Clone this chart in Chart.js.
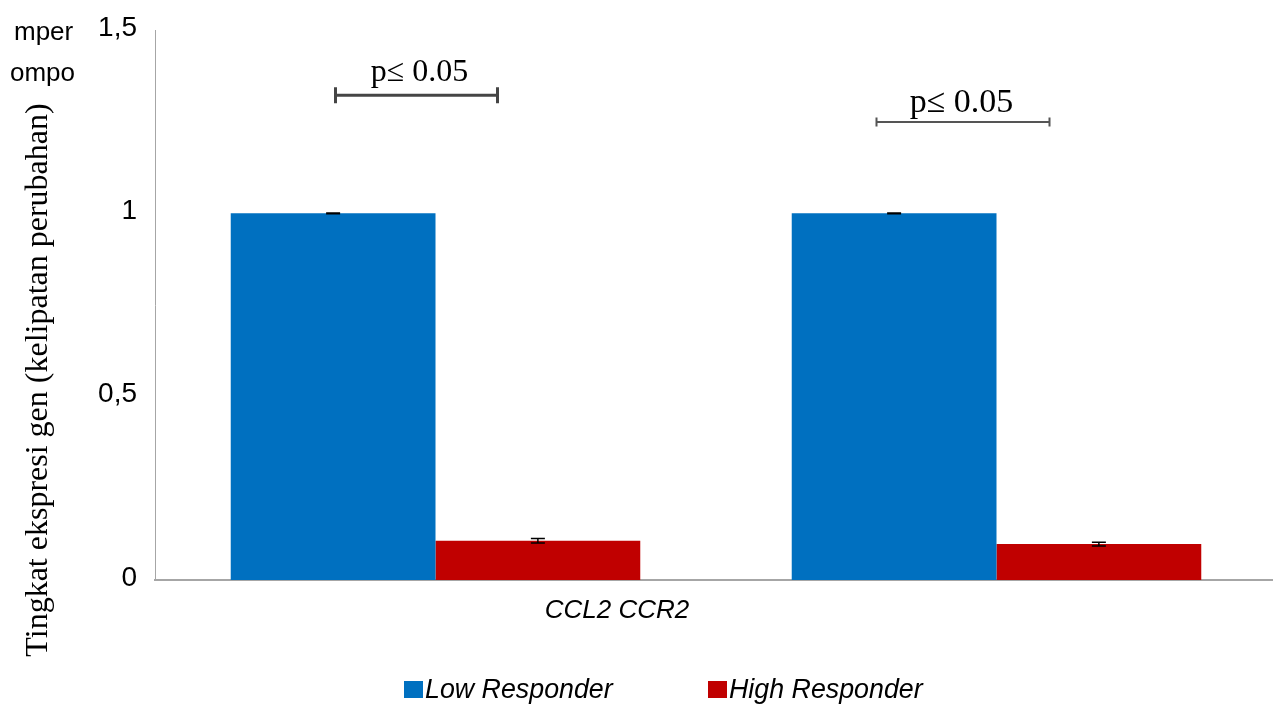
<!DOCTYPE html>
<html>
<head>
<meta charset="utf-8">
<script src="https://cdn.jsdelivr.net/npm/chart.js@4/dist/chart.umd.min.js"></script>
<style>
html,body{margin:0;padding:0;background:#fff;overflow:hidden;}
#wrap{width:1280px;height:704px;position:relative;}
</style>
</head>
<body>
<div id="wrap"><canvas id="c" width="1280" height="704"></canvas></div>
<script>
// ---- data ----
const categories = ['CCL2', 'CCR2'];
const axisLabel = 'CCL2 CCR2';
const seriesNames = ['Low Responder', 'High Responder'];
const lowResponder = [1.0, 1.0];
const highResponder = [0.107, 0.098];
const lowErrors = [0.001, 0.001];
const highErrors = [0.006, 0.005];
const yTicks = [0, 0.5, 1, 1.5];
const yTickLabels = ['0', '0,5', '1', '1,5'];
const yTitle = 'Tingkat ekspresi gen (kelipatan perubahan)';
const sigText = ['p\u2264 0.05', 'p\u2264 0.05'];
const sigLevel = [1.322, 1.249];
const strayText = ['mper', 'ompo'];

const colors = ['#0070C0', '#C00000'];
const errors = [lowErrors, highErrors];

const extras = {
  id: 'extras',
  afterDatasetsDraw(chart) {
    const ctx = chart.ctx;
    const ys = chart.scales.y;
    ctx.save();
    ctx.strokeStyle = '#000';
    ctx.lineWidth = 1.5;
    chart.data.datasets.forEach((ds, di) => {
      const meta = chart.getDatasetMeta(di);
      meta.data.forEach((bar, i) => {
        const v = ds.data[i], e = errors[di][i];
        const x = bar.x;
        const yt = ys.getPixelForValue(v + e), yb = ys.getPixelForValue(v - e);
        ctx.beginPath();
        ctx.moveTo(x, yt); ctx.lineTo(x, yb);
        ctx.moveTo(x - 7, yt); ctx.lineTo(x + 7, yt);
        ctx.moveTo(x - 7, yb); ctx.lineTo(x + 7, yb);
        ctx.stroke();
      });
    });
    ctx.restore();
  },
  afterDraw(chart) {
    const ctx = chart.ctx;
    const ys = chart.scales.y, xs = chart.scales.x;
    const area = chart.chartArea;
    ctx.save();
    const br = [
      {l: -100, r: 62, cap: 8, lw: 3, col: '#454545', font: '32px "Liberation Serif", "Times New Roman", serif', tx: -16, ty: -14},
      {l: -120, r: 53, cap: 4.5, lw: 2, col: '#555', font: '34px "Liberation Serif", "Times New Roman", serif', tx: -35, ty: -10}
    ];
    br.forEach((b, i) => {
      const cx = xs.getPixelForValue(i);
      const y = ys.getPixelForValue(sigLevel[i]);
      ctx.strokeStyle = b.col;
      ctx.lineWidth = b.lw;
      ctx.beginPath();
      ctx.moveTo(cx + b.l, y); ctx.lineTo(cx + b.r, y);
      ctx.moveTo(cx + b.l, y - b.cap); ctx.lineTo(cx + b.l, y + b.cap);
      ctx.moveTo(cx + b.r, y - b.cap); ctx.lineTo(cx + b.r, y + b.cap);
      ctx.stroke();
      ctx.fillStyle = '#000';
      ctx.font = b.font;
      ctx.textAlign = 'center';
      ctx.textBaseline = 'alphabetic';
      ctx.fillText(sigText[i], cx + b.tx, y + b.ty);
    });
    ctx.font = 'italic 26px "Liberation Sans", Arial, sans-serif';
    ctx.fillStyle = '#000';
    ctx.textAlign = 'center';
    ctx.textBaseline = 'alphabetic';
    ctx.fillText(axisLabel, area.left + 462, area.bottom + 38);
    ctx.save();
    ctx.translate(47, 380);
    ctx.rotate(-Math.PI / 2);
    ctx.font = '32px "Liberation Serif", "Times New Roman", serif';
    ctx.textAlign = 'center';
    ctx.textBaseline = 'alphabetic';
    ctx.fillText(yTitle, 0, 0);
    ctx.restore();
    ctx.font = '26px "Liberation Sans", Arial, sans-serif';
    ctx.textAlign = 'left';
    ctx.fillText(strayText[0], 14, 40);
    ctx.fillText(strayText[1], 10, 81);
    const lx = [404, 708];
    ctx.font = 'italic 26.8px "Liberation Sans", Arial, sans-serif';
    seriesNames.forEach((n, i) => {
      ctx.fillStyle = colors[i];
      ctx.fillRect(lx[i], 681, 19, 17);
      ctx.fillStyle = '#000';
      ctx.fillText(n, lx[i] + 21, 698);
    });
    ctx.restore();
  }
};

new Chart(document.getElementById('c'), {
  type: 'bar',
  data: {
    labels: categories,
    datasets: [
      {label: seriesNames[0], data: lowResponder, backgroundColor: colors[0], categoryPercentage: 0.73, barPercentage: 1},
      {label: seriesNames[1], data: highResponder, backgroundColor: colors[1], categoryPercentage: 0.73, barPercentage: 1}
    ]
  },
  options: {
    responsive: false,
    animation: false,
    devicePixelRatio: 1,
    layout: {padding: {top: 30, right: 3, left: 0, bottom: 0}},
    plugins: {legend: {display: false}, tooltip: {enabled: false}},
    scales: {
      x: {
        grid: {display: false, drawTicks: false},
        border: {display: true, color: '#a6a6a6', width: 2},
        ticks: {display: false},
        afterFit(s) { s.height = 124; s.paddingLeft = 0; s.paddingRight = 0; }
      },
      y: {
        min: 0, max: 1.5,
        afterBuildTicks(s) { s.ticks = yTicks.map(v => ({value: v})); },
        grid: {display: false, drawTicks: false},
        border: {display: true, color: '#a6a6a6', width: 1},
        ticks: {
          padding: 18,
          labelOffset: -2,
          color: '#000',
          font: {family: '"Liberation Sans", Arial, sans-serif', size: 28},
          callback(v) { const i = yTicks.indexOf(v); return i >= 0 ? yTickLabels[i] : ''; }
        },
        afterFit(s) { s.width = 155; s.paddingTop = 0; s.paddingBottom = 0; }
      }
    }
  },
  plugins: [extras]
});
</script>
</body>
</html>
